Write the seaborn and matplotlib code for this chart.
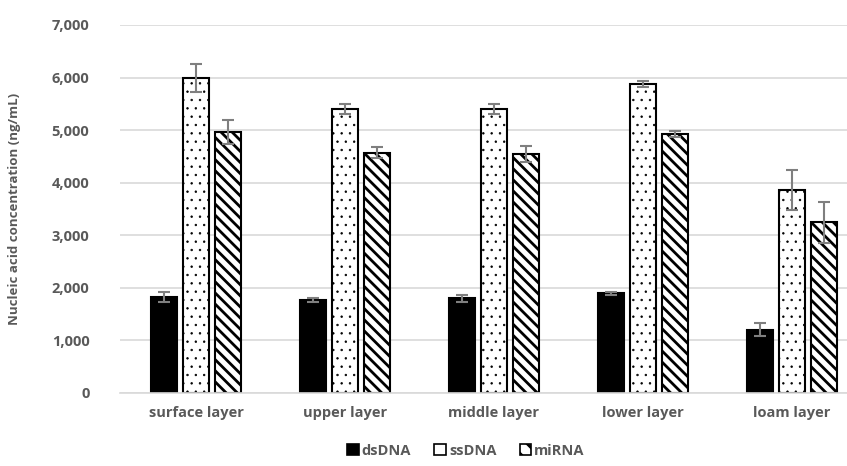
import numpy as np
import pandas as pd
import matplotlib
matplotlib.use("Agg")
import matplotlib.pyplot as plt
import seaborn as sns
from matplotlib.patches import Patch

layers = ["surface layer", "upper layer", "middle layer", "lower layer", "loam layer"]
types = ["dsDNA", "ssDNA", "miRNA"]

ds_dna = [1830, 1770, 1800, 1900, 1200]
ss_dna = [5990, 5400, 5400, 5880, 3870]
mi_rna = [4960, 4570, 4540, 4930, 3250]

ds_err = [90, 40, 60, 30, 125]
ss_err = [260, 100, 100, 60, 380]
mi_err = [230, 100, 150, 60, 390]

df = pd.DataFrame({
    "layer": layers * 3,
    "type": np.repeat(types, len(layers)),
    "value": ds_dna + ss_dna + mi_rna,
    "err": ds_err + ss_err + mi_err,
})

sns.set_style("white")
plt.rcParams["font.family"] = ["Open Sans", "DejaVu Sans"]
plt.rcParams["hatch.linewidth"] = 2.0

fig = plt.figure(figsize=(8.47, 4.66), dpi=100)
ax = fig.add_axes([120 / 847, 1 - 393 / 466, 727 / 847, 368 / 466])

sns.barplot(data=df, x="layer", y="value", hue="type", order=layers, hue_order=types,
            palette=["black", "white", "white"], width=0.645, gap=0.2,
            edgecolor="black", linewidth=1.5, errorbar=None, legend=False, ax=ax)

hatches = {"dsDNA": "", "ssDNA": "..", "miRNA": "\\\\\\"}
hatch_lw = {"dsDNA": 1.0, "ssDNA": 0.5, "miRNA": 2.0}
for cont, t in zip(ax.containers, types):
    sub = df[df["type"] == t].set_index("layer").loc[layers]
    xs = []
    for bar in cont:
        bar.set_hatch(hatches[t])
        if hasattr(bar, "set_hatch_linewidth"):
            bar.set_hatch_linewidth(hatch_lw[t])
        xs.append(bar.get_x() + bar.get_width() / 2)
    ax.errorbar(xs, sub["value"], yerr=sub["err"], fmt="none", ecolor="#7f7f7f",
                elinewidth=1.5, capsize=4, capthick=1.5, zorder=5)

ax.set_ylim(0, 7000)
ax.set_xlim(-0.51, 4.37)
ax.set_yticks(range(0, 7001, 1000))
ax.set_yticklabels([f"{v:,}" for v in range(0, 7001, 1000)])
ax.yaxis.grid(True, color="#d9d9d9", linewidth=1.2)
ax.set_axisbelow(True)
for s in ["top", "right", "left"]:
    ax.spines[s].set_visible(False)
ax.spines["bottom"].set_color("#d9d9d9")
ax.spines["bottom"].set_linewidth(1.2)
ax.tick_params(axis="both", length=0, labelsize=10.5, labelcolor="#595959")
ax.tick_params(axis="y", pad=22)
ax.tick_params(axis="x", pad=9)
for lab in ax.get_xticklabels() + ax.get_yticklabels():
    lab.set_fontweight("bold")
ax.set_xlabel("")
ax.set_ylabel("Nucleic acid concentration (ng/mL)", fontsize=9.5, fontweight="bold",
              color="#595959", labelpad=22)

handles = [Patch(facecolor="black", edgecolor="black", linewidth=1.2),
           Patch(facecolor="white", edgecolor="black", linewidth=1.2),
           Patch(facecolor="white", edgecolor="black", linewidth=1.2, hatch="\\\\")]
fig.legend(handles, types, loc="lower center", bbox_to_anchor=(0.55, -0.01), ncol=3,
           frameon=False, handlelength=0.8, handleheight=0.8, handletextpad=0.2,
           columnspacing=1.6, prop={"weight": "bold", "size": 10.5}, labelcolor="#595959")

fig.savefig("out.png", dpi=100)
